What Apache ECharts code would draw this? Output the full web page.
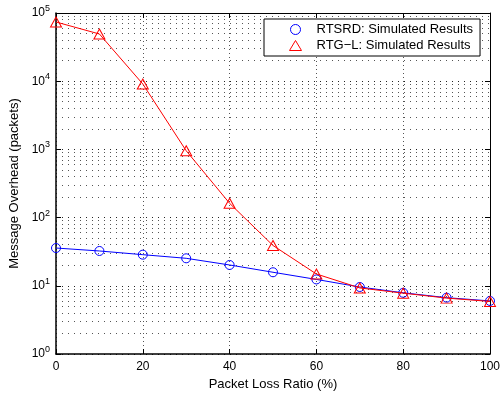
<!DOCTYPE html>
<html>
<head>
<meta charset="utf-8">
<script src="https://cdn.jsdelivr.net/npm/echarts@6/dist/echarts.min.js"></script>
<style>html,body{margin:0;padding:0;background:#fff;}#c{width:502px;height:394px;}</style>
</head>
<body>
<div id="c"></div>
<script>
const lossRatio = [0, 10, 20, 30, 40, 50, 60, 70, 80, 90, 100];
const rtsrd = [35.8, 32.4, 28.6, 25.3, 20.2, 15.8, 12.4, 9.6, 7.9, 6.7, 6.0];
const rtgl = [73800, 49200, 9100, 955, 162, 39, 14.9, 9.3, 7.8, 6.6, 5.9];
const xTicks = [0, 20, 40, 60, 80, 100];
const yDecades = [1, 10, 100, 1000, 10000, 100000];
const seriesNames = ['RTSRD: Simulated Results', 'RTG\u2212L: Simulated Results'];

const minorGrid = [];
for (let d = 0; d < yDecades.length - 1; d++) {
  for (let m = 2; m <= 9; m++) minorGrid.push(yDecades[d] * m);
}
const FONT = '"Liberation Sans", Arial, sans-serif';

const chart = echarts.init(document.getElementById('c'), null, {renderer: 'canvas'});
chart.setOption({
  animation: false,
  backgroundColor: '#fff',
  grid: {left: 56, right: 12, top: 13, bottom: 40, containLabel: false, outerBoundsMode: 'none'},
  legend: {
    orient: 'vertical',
    left: 264, top: 19, z: 20,
    padding: [4, 7, 4, 25],
    backgroundColor: '#fff',
    borderColor: '#000', borderWidth: 1, borderRadius: 0,
    itemWidth: 12, itemHeight: 10, itemGap: 3,
    textStyle: {fontFamily: FONT, fontSize: 13, color: '#000', padding: [0, 0, 0, 10]},
    data: [
      {name: seriesNames[0], icon: 'circle', itemStyle: {color: 'rgba(0,0,0,0)', borderColor: '#0000ff', borderWidth: 1}},
      {name: seriesNames[1], icon: 'triangle', itemStyle: {color: 'rgba(0,0,0,0)', borderColor: '#ff0000', borderWidth: 1}}
    ]
  },
  xAxis: [{
    type: 'value', min: 0, max: 100, interval: 20, position: 'bottom',
    name: 'Packet Loss Ratio (%)', nameLocation: 'middle', nameGap: 21,
    nameTextStyle: {fontFamily: FONT, fontSize: 13, color: '#000'},
    axisLine: {show: true, onZero: false, lineStyle: {color: '#000', width: 1.5}},
    axisTick: {show: true, inside: true, length: 5, lineStyle: {color: '#000'}},
    axisLabel: {fontFamily: FONT, fontSize: 12, color: '#000', margin: 7},
    splitLine: {show: true, lineStyle: {color: '#555', type: [1, 3], width: 1}}
  }, {
    type: 'value', min: 0, max: 100, interval: 20, position: 'top',
    axisLine: {show: true, onZero: false, lineStyle: {color: '#000', width: 1}},
    axisTick: {show: true, inside: true, length: 5, lineStyle: {color: '#000'}},
    axisLabel: {show: false}, splitLine: {show: false}
  }],
  yAxis: [{
    type: 'log', logBase: 10, min: 1, max: 100000, position: 'left',
    name: 'Message Overhead (packets)', nameLocation: 'middle', nameGap: 31,
    nameTextStyle: {fontFamily: FONT, fontSize: 13, color: '#000'},
    axisLine: {show: true, onZero: false, lineStyle: {color: '#000', width: 1.5}},
    axisTick: {show: true, inside: true, length: 5, lineStyle: {color: '#000'}},
    axisLabel: {
      margin: 6, color: '#000',
      formatter: v => '{b|10}{s|' + Math.round(Math.log10(v)) + '}',
      rich: {
        b: {fontFamily: FONT, fontSize: 12, color: '#000'},
        s: {fontFamily: FONT, fontSize: 9, color: '#000', padding: [0, 0, 9, 0]}
      }
    },
    splitLine: {show: true, lineStyle: {color: '#222', type: [1, 5], width: 1}}
  }, {
    type: 'log', logBase: 10, min: 1, max: 100000, position: 'right',
    axisLine: {show: true, onZero: false, lineStyle: {color: '#000', width: 1}},
    axisTick: {show: true, inside: true, length: 5, lineStyle: {color: '#000'}},
    axisLabel: {show: false}, splitLine: {show: false}
  }],
  series: [{
    type: 'line', name: 'minorgrid', data: [], silent: true, xAxisIndex: 0, yAxisIndex: 0, z: 0,
    markLine: {
      silent: true, symbol: 'none', label: {show: false}, animation: false, z: 0,
      lineStyle: {color: '#555', type: [1, 5], width: 1},
      data: minorGrid.map(v => ({yAxis: v}))
    }
  }, {
    type: 'line', name: seriesNames[0], xAxisIndex: 0, yAxisIndex: 0,
    data: lossRatio.map((x, i) => [x, rtsrd[i]]),
    symbol: 'circle', symbolSize: 9,
    lineStyle: {color: '#0000ff', width: 1},
    itemStyle: {color: 'rgba(0,0,0,0)', borderColor: '#0000ff', borderWidth: 1},
    z: 3
  }, {
    type: 'line', name: seriesNames[1], xAxisIndex: 0, yAxisIndex: 0,
    data: lossRatio.map((x, i) => [x, rtgl[i]]),
    symbol: 'triangle', symbolSize: [11, 10],
    lineStyle: {color: '#ff0000', width: 1},
    itemStyle: {color: 'rgba(0,0,0,0)', borderColor: '#ff0000', borderWidth: 1},
    z: 4
  }]
});
</script>
</body>
</html>
